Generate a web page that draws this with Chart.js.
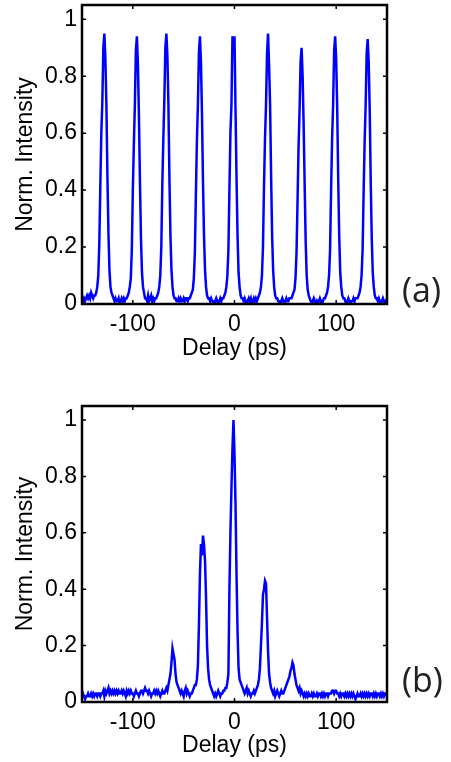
<!DOCTYPE html>
<html>
<head>
<meta charset="utf-8">
<script src="https://cdn.jsdelivr.net/npm/chart.js@4"></script>
<style>
  body { margin: 0; background: #fff; }
  canvas { position: absolute; left: 0; }
  #chartA { top: 0; }
  #chartB { top: 370px; }
</style>
</head>
<body>
<canvas id="chartA" width="451" height="370"></canvas>
<canvas id="chartB" width="451" height="392"></canvas>
<script>
// delay axis, 1 ps steps
const delayPs = [
  -150,-149,-148,-147,-146,-145,-144,-143,-142,-141,-140,-139,-138,-137,-136,-135,-134,-133,-132,-131,
  -130,-129,-128,-127,-126,-125,-124,-123,-122,-121,-120,-119,-118,-117,-116,-115,-114,-113,-112,-111,
  -110,-109,-108,-107,-106,-105,-104,-103,-102,-101,-100,-99,-98,-97,-96,-95,-94,-93,-92,-91,
  -90,-89,-88,-87,-86,-85,-84,-83,-82,-81,-80,-79,-78,-77,-76,-75,-74,-73,-72,-71,
  -70,-69,-68,-67,-66,-65,-64,-63,-62,-61,-60,-59,-58,-57,-56,-55,-54,-53,-52,-51,
  -50,-49,-48,-47,-46,-45,-44,-43,-42,-41,-40,-39,-38,-37,-36,-35,-34,-33,-32,-31,
  -30,-29,-28,-27,-26,-25,-24,-23,-22,-21,-20,-19,-18,-17,-16,-15,-14,-13,-12,-11,
  -10,-9,-8,-7,-6,-5,-4,-3,-2,-1,0,1,2,3,4,5,6,7,8,9,
  10,11,12,13,14,15,16,17,18,19,20,21,22,23,24,25,26,27,28,29,
  30,31,32,33,34,35,36,37,38,39,40,41,42,43,44,45,46,47,48,49,
  50,51,52,53,54,55,56,57,58,59,60,61,62,63,64,65,66,67,68,69,
  70,71,72,73,74,75,76,77,78,79,80,81,82,83,84,85,86,87,88,89,
  90,91,92,93,94,95,96,97,98,99,100,101,102,103,104,105,106,107,108,109,
  110,111,112,113,114,115,116,117,118,119,120,121,122,123,124,125,126,127,128,129,
  130,131,132,133,134,135,136,137,138,139,140,141,142,143,144,145,146,147,148,149,
  150
];

// (a) normalized intensity
const intensityA = [
  0.02,0.01,0.02,0.01,0.02,0.03,0.02,0.03,0.02,0.04,0.03,0.02,0.03,
  0.03,0.04,0.06,0.10,0.21,0.41,0.60,0.71,0.90,0.95,0.86,0.70,0.45,0.25,0.12,0.06,0.04,0.03,
  0.02,0.01,0.02,0.01,0.01,0.02,0.00,0.01,0.02,0.01,0.02,0.01,0.02,0.02,
  0.03,0.04,0.06,0.09,0.19,0.40,0.56,0.70,0.89,0.94,0.84,0.66,0.43,0.23,0.11,0.06,0.04,0.02,
  0.02,0.01,0.03,0.01,0.02,0.03,0.01,0.02,0.01,0.02,0.02,
  0.03,0.04,0.06,0.10,0.20,0.42,0.58,0.72,0.90,0.95,0.87,0.70,0.44,0.24,0.12,0.06,0.03,0.02,
  0.02,0.01,0.01,0.02,0.01,0.02,0.01,0.01,0.02,0.01,0.02,0.02,0.01,0.02,0.02,
  0.03,0.04,0.05,0.09,0.18,0.38,0.57,0.70,0.88,0.94,0.85,0.67,0.43,0.24,0.12,0.06,0.03,0.02,
  0.02,0.01,0.02,0.01,0.01,0.00,0.01,0.02,0.01,0.00,0.01,0.02,0.01,0.02,0.02,
  0.03,0.04,0.06,0.10,0.19,0.40,0.60,0.70,0.94,0.90,0.94,0.68,0.44,0.24,0.11,0.06,0.03,0.02,
  0.02,0.01,0.02,0.01,0.00,0.01,0.02,0.01,0.02,0.00,0.01,0.02,0.01,0.02,0.01,0.02,
  0.03,0.04,0.06,0.10,0.20,0.41,0.58,0.70,0.88,0.95,0.84,0.70,0.45,0.24,0.12,0.06,0.03,0.02,
  0.02,0.01,0.01,0.00,0.01,0.02,0.01,0.00,0.01,0.02,0.01,0.01,0.02,0.02,0.02,
  0.03,0.04,0.05,0.09,0.18,0.36,0.55,0.68,0.85,0.90,0.80,0.63,0.42,0.22,0.10,0.05,0.03,0.02,
  0.01,0.00,0.01,0.02,0.01,0.00,0.01,0.00,0.01,0.02,0.01,0.00,0.01,0.02,0.02,
  0.03,0.04,0.06,0.10,0.19,0.40,0.58,0.70,0.89,0.94,0.86,0.69,0.44,0.24,0.11,0.06,0.03,0.02,
  0.02,0.01,0.00,0.01,0.02,0.01,0.00,0.01,0.01,0.02,0.01,0.02,0.02,0.02,
  0.03,0.04,0.06,0.10,0.19,0.39,0.57,0.70,0.88,0.93,0.85,0.68,0.43,0.23,0.11,0.06,0.03,0.02,
  0.02,0.01,0.02,0.01,0.00,0.01,0.02,0.01,0.00,0.01,0.02
];

// (b) normalized intensity
const intensityB = [
  0.02,0.03,0.02,0.01,0.02,0.02,0.03,0.02,0.02,0.03,
  0.02,0.03,0.02,0.03,0.03,0.02,0.03,0.03,0.02,0.03,
  0.03,0.04,0.02,0.04,0.03,0.04,0.05,0.03,0.04,0.03,
  0.04,0.03,0.04,0.03,0.04,0.03,0.04,0.03,0.03,0.04,
  0.03,0.04,0.03,0.02,0.04,0.03,0.04,0.03,0.04,0.03,
  0.03,0.02,0.03,0.04,0.03,0.03,0.02,0.03,0.04,0.04,
  0.03,0.04,0.05,0.04,0.04,0.03,0.04,0.03,0.02,0.03,
  0.03,0.04,0.03,0.04,0.03,0.04,0.03,0.02,0.03,0.04,
  0.03,0.03,0.04,0.05,
  0.04,0.06,0.08,0.10,0.14,0.19,0.17,0.15,0.10,0.07,0.06,0.05,
  0.04,0.03,0.04,0.03,0.02,0.04,0.05,0.03,0.04,0.03,0.02,0.03,0.03,0.04,0.05,0.06,
  0.06,0.08,0.13,0.27,0.45,0.56,0.52,0.59,0.56,0.50,0.37,0.20,0.12,0.08,0.06,0.05,0.04,
  0.03,0.02,0.03,0.02,0.03,0.04,0.03,0.02,0.03,0.03,0.04,0.04,0.05,
  0.05,0.07,0.10,0.40,0.60,0.76,0.90,1.00,0.88,0.70,0.45,0.25,0.12,0.08,0.07,0.06,0.05,
  0.04,0.03,0.04,0.05,0.03,0.04,0.03,0.02,0.03,0.03,0.04,0.03,0.04,0.05,0.06,
  0.08,0.12,0.20,0.28,0.38,0.40,0.43,0.42,0.30,0.18,0.10,0.07,0.05,0.04,
  0.03,0.04,0.02,0.03,0.04,0.03,0.02,0.03,0.04,0.03,0.03,0.04,0.05,0.06,0.07,
  0.08,0.09,0.11,0.12,0.14,0.13,0.10,0.08,0.06,0.05,0.04,0.05,
  0.03,0.04,0.03,0.02,0.03,0.02,0.03,0.02,0.03,0.02,
  0.02,0.03,0.02,0.03,0.02,0.02,0.03,0.02,0.03,0.03,
  0.02,0.03,0.02,0.03,0.02,0.03,0.03,0.02,0.03,0.03,
  0.03,0.04,0.04,0.03,0.04,0.04,0.03,0.03,0.02,0.03,
  0.02,0.03,0.03,0.02,0.03,0.02,0.03,0.02,0.03,0.02,
  0.03,0.02,0.03,0.02,0.01,0.02,0.03,0.02,0.02,0.03,
  0.02,0.03,0.02,0.03,0.02,0.03,0.02,0.03,0.02,0.03,
  0.03,0.02,0.03,0.02,0.03,0.02,0.03,0.03,0.02,0.03,
  0.02,0.03,0.02,0.03,0.03,0.02
];

const xTicks = [-100, 0, 100];
const yTicks = [0, 0.2, 0.4, 0.6, 0.8, 1];

const axisFont = { family: '"Liberation Sans", Arial, sans-serif', size: 23 };

// box frame, inward ticks on all sides, panel tag
const framePlugin = {
  id: 'frame',
  afterDraw(chart, args, opts) {
    const { ctx, chartArea: a, scales: { x, y } } = chart;
    ctx.save();
    ctx.strokeStyle = '#000';
    ctx.lineWidth = 1.5;
    ctx.beginPath();
    xTicks.forEach(v => {
      const p = x.getPixelForValue(v);
      ctx.moveTo(p, a.bottom); ctx.lineTo(p, a.bottom - 4);
      ctx.moveTo(p, a.top); ctx.lineTo(p, a.top + 4);
    });
    yTicks.forEach(v => {
      const p = y.getPixelForValue(v);
      ctx.moveTo(a.left, p); ctx.lineTo(a.left + 4, p);
      ctx.moveTo(a.right, p); ctx.lineTo(a.right - 4, p);
    });
    ctx.stroke();
    ctx.lineWidth = 2.5;
    ctx.strokeRect(a.left, a.top, a.right - a.left, a.bottom - a.top);
    ctx.fillStyle = '#222';
    ctx.font = '34px "Open Sans", sans-serif';
    ctx.textBaseline = 'middle';
    ctx.textAlign = 'left';
    ctx.fillText(opts.tag, opts.tagX, opts.tagY);
    ctx.restore();
  }
};

function makeChart(id, values, tag, top, xHeight, titlePad, tagY) {
  const pts = delayPs.map((d, i) => ({ x: d, y: values[i] }));
  return new Chart(document.getElementById(id), {
    type: 'line',
    data: {
      datasets: [{
        data: pts,
        borderColor: '#0000ff',
        borderWidth: 2.5,
        pointRadius: 0,
        tension: 0,
        fill: false
      }]
    },
    options: {
      responsive: false,
      animation: false,
      events: [],
      layout: { padding: { top: top, right: 64, left: 0, bottom: 0 } },
      plugins: {
        legend: { display: false },
        tooltip: { enabled: false },
        frame: { tag: tag, tagX: 402, tagY: tagY }
      },
      scales: {
        x: {
          type: 'linear',
          min: -150,
          max: 150,
          afterBuildTicks: s => { s.ticks = xTicks.map(v => ({ value: v })); },
          afterFit: s => { s.height = xHeight; s.paddingLeft = 0; s.paddingRight = 0; },
          grid: { display: false, drawTicks: false },
          border: { display: false },
          ticks: { font: axisFont, color: '#000', padding: 7, maxRotation: 0, callback: v => String(v) },
          title: { display: true, text: 'Delay (ps)', font: axisFont, color: '#000', padding: { top: 0, bottom: titlePad } }
        },
        y: {
          min: 0,
          max: 1.05,
          afterBuildTicks: s => { s.ticks = yTicks.map(v => ({ value: v })); },
          afterFit: s => { s.width = 82; s.paddingTop = 0; s.paddingBottom = 0; },
          grid: { display: false, drawTicks: false },
          border: { display: false },
          ticks: { font: axisFont, color: '#000', padding: 5, callback: v => String(v) },
          title: { display: true, text: 'Norm. Intensity', font: axisFont, color: '#000', padding: { top: 12, bottom: 0 } }
        }
      }
    },
    plugins: [framePlugin]
  });
}

makeChart('chartA', intensityA, '(a)', 5, 66, 8, 292);
makeChart('chartB', intensityB, '(b)', 36, 60, 3, 312);
</script>
</body>
</html>
